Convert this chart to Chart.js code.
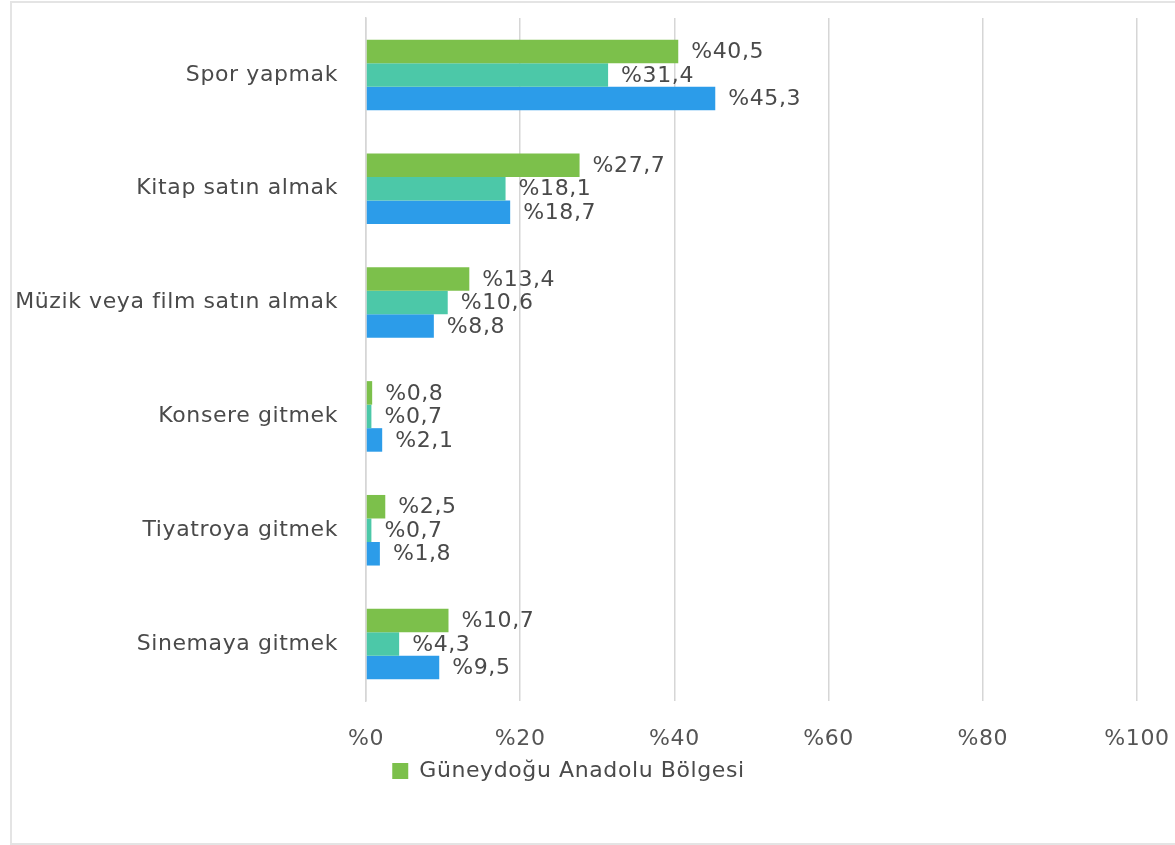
<!DOCTYPE html>
<html lang="tr">
<head>
<meta charset="utf-8">
<title>Boş zaman etkinlikleri</title>
<script src="https://cdn.jsdelivr.net/npm/chart.js@4.4.1/dist/chart.umd.min.js"></script>
<style>
  html, body { margin: 0; padding: 0; background: #fff; overflow: hidden; }
  .frame {
    position: absolute; left: 10px; top: 1px;
    width: 1190px; height: 840px;
    border: 2px solid #e4e4e4;
  }
  .frame canvas { display: block; }
</style>
</head>
<body>
<div class="frame"><canvas id="chart-etkinlik"></canvas></div>
<script>
// Kategoriler ve seriler
const categories = ['Spor yapmak', 'Kitap satın almak', 'Müzik veya film satın almak', 'Konsere gitmek', 'Tiyatroya gitmek', 'Sinemaya gitmek'];
const seriesNames = ['Güneydoğu Anadolu Bölgesi', 'Seri 2', 'Seri 3'];
const greenValues = [40.5, 27.7, 13.4, 0.8, 2.5, 10.7];
const tealValues = [31.4, 18.1, 10.6, 0.7, 0.7, 4.3];
const blueValues = [45.3, 18.7, 8.8, 2.1, 1.8, 9.5];
const xTicks = [0, 20, 40, 60, 80, 100];

const colors = ['#7cc04b', '#4cc8a8', '#2c9ce9'];
const FONT = '"DejaVu Sans", Verdana, sans-serif';
const FS = 22;
const SPACING = '0.6px';
const pct = v => '%' + String(v).replace('.', ',');

// harf aralığı (canvas boyutlanınca sıfırlanıyor) + lejandı biraz sola al
const tweaks = {
  id: 'tweaks',
  beforeUpdate(chart) { chart.ctx.letterSpacing = SPACING; },
  afterLayout(chart) { chart.legend.left -= 6; chart.legend.right -= 6; },
  beforeDraw(chart) { chart.ctx.letterSpacing = SPACING; }
};

// Değer etiketleri (çubuğun sonunda)
const valueLabels = {
  id: 'valueLabels',
  afterDatasetsDraw(chart) {
    const ctx = chart.ctx;
    ctx.save();
    ctx.font = FS + 'px ' + FONT;
    ctx.fillStyle = '#4a4a4a';
    ctx.textAlign = 'left';
    ctx.textBaseline = 'middle';
    chart.data.datasets.forEach((ds, i) => {
      chart.getDatasetMeta(i).data.forEach((bar, j) => {
        ctx.fillText(pct(ds.data[j]), bar.x + 13, bar.y + 1);
      });
    });
    ctx.restore();
  }
};

const ctx = document.getElementById('chart-etkinlik').getContext('2d');
new Chart(ctx, {
  type: 'bar',
  data: {
    labels: categories,
    datasets: [greenValues, tealValues, blueValues].map((d, i) => ({
      label: seriesNames[i],
      data: d,
      backgroundColor: colors[i],
      borderWidth: 0,
      barPercentage: 1,
      categoryPercentage: 0.62
    }))
  },
  options: {
    indexAxis: 'y',
    responsive: true,
    maintainAspectRatio: false,
    animation: false,
    layout: { padding: { top: 15, right: 65, bottom: 51, left: 0 } },
    scales: {
      x: {
        min: 0, max: 100,
        afterBuildTicks: s => { s.ticks = xTicks.map(v => ({ value: v })); },
        afterFit: s => { s.paddingLeft = 0; s.paddingRight = 0; s.height = 51; },
        grid: { color: '#d6d6d6', lineWidth: 1.5, drawTicks: false },
        border: { display: false },
        ticks: { color: '#555', font: { family: FONT, size: FS }, padding: 25, maxRotation: 0, callback: v => pct(v) }
      },
      y: {
        afterFit: s => { s.width = 354; s.paddingTop = 0; s.paddingBottom = 0; },
        grid: { display: false, drawTicks: false },
        border: { display: true, color: '#d6d6d6', width: 1.5 },
        ticks: { color: '#4a4a4a', font: { family: FONT, size: FS }, padding: 28 }
      }
    },
    plugins: {
      tooltip: { enabled: false },
      legend: {
        position: 'bottom',
        labels: {
          filter: item => item.datasetIndex === 0,
          boxWidth: 16, boxHeight: 16,
          color: '#4a4a4a',
          font: { family: FONT, size: FS },
          padding: 8
        }
      }
    }
  },
  plugins: [tweaks, valueLabels]
});
</script>
</body>
</html>
